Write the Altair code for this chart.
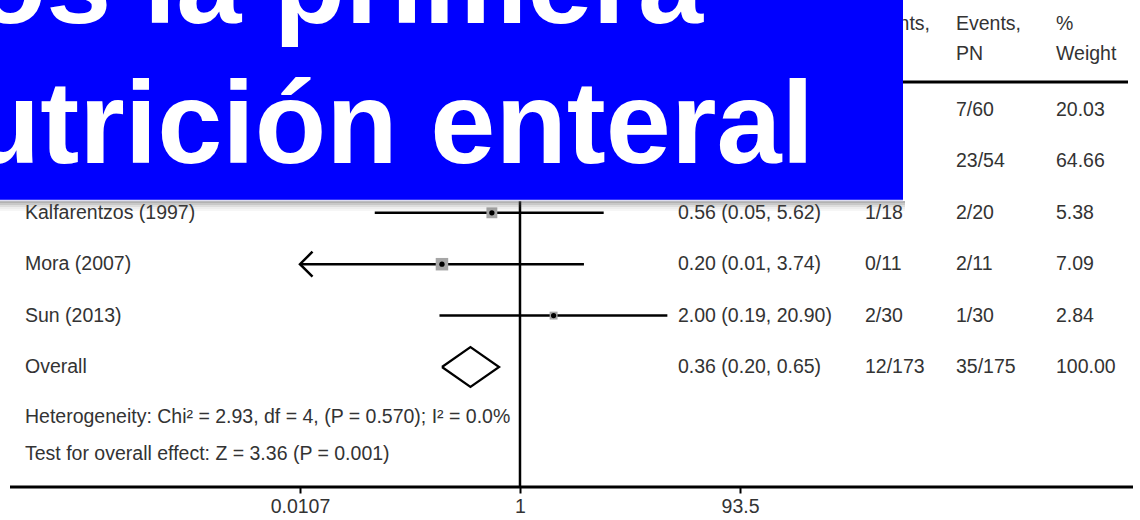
import altair as alt
import pandas as pd

FONT = "Liberation Sans"
TXT = "#333333"

# Study rows (rows 1-2 sit beneath the title banner)
study = [None, None, "Kalfarentzos (1997)", "Mora (2007)", "Sun (2013)", "Overall"]
rr = [None, None, 0.56, 0.20, 2.00, 0.36]
ci_lo = [None, None, 0.05, 0.01, 0.19, 0.20]
ci_hi = [None, None, 5.62, 3.74, 20.90, 0.65]
events_en = [None, None, "1/18", "0/11", "2/30", "12/173"]
events_pn = ["7/60", "23/54", "2/20", "2/11", "1/30", "35/175"]
weight = [20.03, 64.66, 5.38, 7.09, 2.84, 100.00]
is_overall = [False, False, False, False, False, True]

x_ticks = [0.0107, 1, 93.5]
x_min, x_max = x_ticks[0], x_ticks[-1]

headers = [("Events,", "EN", 865), ("Events,", "PN", 956), ("%", "Weight", 1056)]
notes = [
    "Heterogeneity: Chi\u00b2 = 2.93, df = 4, (P = 0.570); I\u00b2 = 0.0%",
    "Test for overall effect: Z = 3.36 (P = 0.001)",
]
title_lines = ["iniciamos la primera", "nutrici\u00f3n enteral"]

rows = pd.DataFrame({
    "row": list(range(1, 7)),
    "study": study, "rr": rr, "lo": ci_lo, "hi": ci_hi,
    "en": events_en, "pn": events_pn, "weight": weight, "overall": is_overall,
})
rows["weight_txt"] = rows["weight"].map(lambda v: f"{v:.2f}")
rows["rr_txt"] = [
    f"{r:.2f} ({l:.2f}, {h:.2f})" if r is not None and pd.notna(r) else None
    for r, l, h in zip(rows["rr"], rows["lo"], rows["hi"])
]
rows["lo_c"] = rows["lo"].clip(lower=x_min)
rows["arrow"] = rows["lo"] < x_min

known = rows[rows["rr"].notna()]
trials = known[~known["overall"]]
pooled = known[known["overall"]].iloc[0]

yscale = alt.Scale(domain=[1, 6], range=[110, 367], nice=False, zero=False)
xscale = alt.Scale(type="log", domain=[x_min, x_max], range=[300, 740], nice=False)
xaxis = alt.Axis(values=x_ticks, format=".4~g", domain=False, grid=False, ticks=True,
                 tickSize=6, tickWidth=2, tickColor="black", labelFont=FONT,
                 labelFontSize=19.5, labelColor=TXT, labelPadding=4, offset=-33,
                 labelOverlap=False, labelFlush=False, title=None)


def X(field):
    return alt.X(field, type="quantitative", scale=xscale, axis=xaxis)


def Y(field="row"):
    return alt.Y(field, type="quantitative", scale=yscale, axis=None)


txt = dict(font=FONT, fontSize=19.5, color=TXT, align="left", baseline="middle")

# Confidence interval lines
ci = alt.Chart(trials).mark_rule(color="black", strokeWidth=2.5).encode(
    x=X("lo_c"), x2="hi", y=Y())
arrow = alt.Chart(trials[trials["arrow"]]).mark_point(
    shape="M1,-1L0,0L1,1", filled=False, size=625, strokeWidth=2.5, color="black",
    opacity=1).encode(x=X("lo_c"), y=Y())
boxes = alt.Chart(trials).mark_square(color="#a6a6a6", opacity=1).encode(
    x=X("rr"), y=Y(),
    size=alt.Size("weight:Q", scale=alt.Scale(domain=[0, 100], range=[0, 2200]), legend=None))
dots = alt.Chart(trials).mark_circle(size=28, color="black", opacity=1).encode(x=X("rr"), y=Y())

# Pooled-estimate diamond
half = 20 / ((367 - 110) / 5)
diamond_df = pd.DataFrame({
    "x": [pooled["lo"], pooled["rr"], pooled["hi"], pooled["rr"], pooled["lo"]],
    "row": [pooled["row"], pooled["row"] - half, pooled["row"], pooled["row"] + half, pooled["row"]],
    "k": [0, 1, 2, 3, 4],
})
diamond = alt.Chart(diamond_df).mark_line(color="black", strokeWidth=2.2).encode(
    x=X("x"), y=Y(), order="k:Q")

null_line = alt.Chart(pd.DataFrame({"x": [1]})).mark_rule(color="black", strokeWidth=2.5).encode(
    x=X("x"), y=alt.value(90), y2=alt.value(487))

axis_line = alt.Chart(pd.DataFrame({"a": [0]})).mark_rule(color="black", strokeWidth=3).encode(
    x=alt.value(10), x2=alt.value(1133), y=alt.value(487))
header_line = alt.Chart(pd.DataFrame({"a": [0]})).mark_rule(color="black", strokeWidth=3).encode(
    x=alt.value(10), x2=alt.value(1128), y=alt.value(82))

# Table columns
lab_layer = alt.Chart(known).mark_text(**txt).encode(x=alt.value(25), y=Y(), text="study:N")
rr_layer = alt.Chart(known).mark_text(**txt).encode(x=alt.value(678), y=Y(), text="rr_txt:N")
en_layer = alt.Chart(known).mark_text(**txt).encode(x=alt.value(865), y=Y(), text="en:N")
pn_layer = alt.Chart(rows).mark_text(**txt).encode(x=alt.value(956), y=Y(), text="pn:N")
wt_layer = alt.Chart(rows).mark_text(**txt).encode(x=alt.value(1056), y=Y(), text="weight_txt:N")

head_layers = []
for l1, l2, hx in headers:
    hdf = pd.DataFrame({"t": [l1, l2], "yy": [24, 54]})
    head_layers.append(alt.Chart(hdf).mark_text(**txt).encode(
        x=alt.value(hx), y=alt.Y("yy:Q", scale=None, axis=None), text="t:N"))

notes_df = pd.DataFrame({"t": notes, "yy": [417, 454]})
notes_layer = alt.Chart(notes_df).mark_text(**txt).encode(
    x=alt.value(25), y=alt.Y("yy:Q", scale=None, axis=None), text="t:N")

# Title banner laid over the top of the plot
banner = alt.Chart(pd.DataFrame({"a": [0]})).mark_rect(color="#0000ff").encode(
    x=alt.value(0), x2=alt.value(903), y=alt.value(0), y2=alt.value(200))
shadow_layers = []
for i, op in enumerate([0.45, 0.32, 0.2, 0.1, 0.05]):
    shadow_layers.append(alt.Chart(pd.DataFrame({"a": [0]})).mark_rect(
        color="#555555", opacity=op).encode(
        x=alt.value(0), x2=alt.value(905), y=alt.value(201 + 2 * i), y2=alt.value(203 + 2 * i)))
edge = alt.Chart(pd.DataFrame({"a": [0]})).mark_rule(color="#dcdcf0", strokeWidth=1.5).encode(
    x=alt.value(0), x2=alt.value(903), y=alt.value(200.5))
title_df = pd.DataFrame({"t": title_lines, "yy": [23, 163], "xx": [703, 814]})
title_text = alt.Chart(title_df).mark_text(
    font=FONT, fontSize=117, fontWeight="bold", color="white", align="right",
    baseline="alphabetic").encode(
    x=alt.X("xx:Q", scale=None, axis=None), y=alt.Y("yy:Q", scale=None, axis=None), text="t:N")

chart = alt.layer(
    null_line, ci, arrow, boxes, dots, diamond, axis_line, header_line,
    lab_layer, rr_layer, en_layer, pn_layer, wt_layer, *head_layers, notes_layer,
    *shadow_layers, banner, edge, title_text,
).properties(
    width=1140, height=520, padding=0, autosize=alt.AutoSizeParams(type="none"),
    background="white",
).configure_view(stroke=None)

chart.save("out.html", embed_options={"renderer": "svg", "actions": False})
